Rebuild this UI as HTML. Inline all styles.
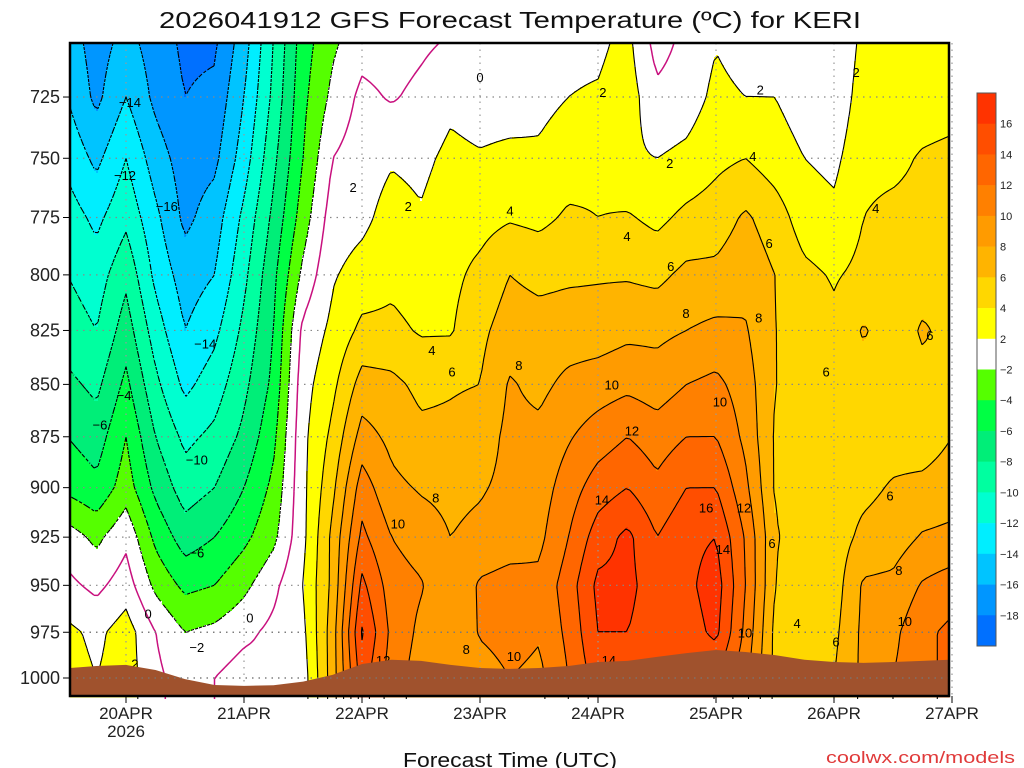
<!DOCTYPE html>
<html><head><meta charset="utf-8"><style>
html,body{margin:0;padding:0;background:#fff;}
svg{display:block;font-family:"Liberation Sans",sans-serif;}
</style></head><body>
<svg id="chart" width="1024" height="768" viewBox="0 0 1024 768" xmlns="http://www.w3.org/2000/svg">
<rect width="1024" height="768" fill="#fff"/>
<text x="510" y="28" text-anchor="middle" font-size="23" textLength="702" lengthAdjust="spacingAndGlyphs" fill="#111">2026041912 GFS Forecast Temperature (ºC) for KERI</text>
<g id="fill"></g>
<g id="grid"></g>
<g id="contours"></g>
<g id="clabels" font-size="13" fill="#000" text-anchor="middle"></g>
<g id="ground"></g>
<rect x="70" y="43" width="879" height="653" fill="none" stroke="#000" stroke-width="2.5"/>
<g id="axes"></g>
<g id="cbar"></g>
<text x="510" y="767" text-anchor="middle" font-size="20" textLength="214" lengthAdjust="spacingAndGlyphs" fill="#111">Forecast Time (UTC)</text>
<text x="1015" y="763" text-anchor="end" font-size="17" textLength="189" lengthAdjust="spacingAndGlyphs" fill="#e03a3a">coolwx.com/models</text>
</svg>
<script>
// ---- data ----
const hours = [0,6,12,18,24,30,36,42,48,54,60,66,72,78,84,90,96,102,108,114,120,126,132,138,144,150,156,162,168,174,180]; // hours since 19APR 12Z
const levels = [700,725,750,775,800,825,850,875,900,925,950,975,1000];
const t00 = [-15,-14,-12.5,-11,-10,-9,-7.5,-6,-4.5,-1,0.5,2.5,3];
const t01 = [-17,-16.5,-14.5,-12.5,-11,-10,-8.5,-7,-5.5,-2.5,-0.5,1.5,2];
const t02 = [-15.5,-14,-12,-10.5,-8.5,-7,-5.5,-4,-3,-0.5,1,3,3];
const t03 = [-17,-16.5,-15,-13.5,-12.5,-11,-9.5,-8,-6.5,-4.5,-2.5,0,0.5];
const t04 = [-18.5,-18,-17,-16.5,-15,-14,-12.5,-10.5,-9,-7,-4.5,-2,-1];
const t05 = [-18.5,-17.5,-16.5,-15,-14,-12.5,-11,-9.5,-8,-6,-4,-1.5,0];
const t06 = [-15,-14,-13,-11.5,-10.5,-9.5,-8.5,-7.5,-6,-4.5,-2.5,-0.5,1];
const t07 = [-10,-9.5,-8.5,-7.5,-6.5,-6,-5.5,-4.5,-3.5,-2.5,-0.5,0.5,0.5];
const t08 = [-5,-4.5,-4,-3,-1.5,0.5,1.2,1.5,1.5,1.5,2,1.5,1];
const t09 = [-2.5,-1.5,0,1,1.8,2.5,3.5,4.5,5.5,6.5,6.5,7,7];
const t10 = [-1,0.5,1,1.5,2.8,4.5,6.8,8.8,11,12.5,14.5,16.2,15];
const t11 = [-1,-0.2,1.8,2.8,3.5,4.5,6.5,7.5,8.5,10,11,11.5,11];
const t12 = [-0.5,0.5,1.5,2.2,3,3.8,5.5,6.5,7.8,9,10.2,9.5,9];
const t13 = [0,1.5,2.5,3.2,3.5,3.8,5.8,6.5,7.5,8,8,8,8];
const t14 = [0,1,2.2,3.3,4.5,5.5,6,7,7.8,8.5,10.3,10.2,9];
const t15 = [0.5,1,2.5,3.8,6,7,8.2,8.5,8.5,9,10.8,10.8,10];
const t16 = [0.5,1.5,2.3,3.5,5.5,6.8,7.5,8.5,9,9.5,10.5,10.2,9.5];
const t17 = [1.5,2,3,4.3,5.7,7,8.5,9.8,11,12,13,12.5,12];
const t18 = [1.5,2.2,3.5,4,5.8,7,9,11,13,15,16.5,16,15];
const t19 = [2.5,3,2.3,4.2,5.8,7.5,9.5,12,14,16.5,16.5,16,15];
const t20 = [-1,0.5,2,3.5,5.5,7.5,9,11,12.5,14,15,15,14];
const t21 = [0.5,1,2.5,4.5,6.5,8,10,12,14,15.5,15.5,15,14];
const t22 = [1.8,2.5,3.5,5,6.5,8.5,10.5,12,14,16,17,16.5,14];
const t23 = [1,2,4,6.3,7.3,8.2,9,9.5,10.5,11.8,12,11.5,10.5];
const t24 = [1,2,3,5,6,6,6,5.8,5.8,6.2,6,5.5,5.5];
const t25 = [0,1,2,3,4.5,5.5,5.5,5.5,5.5,5,4.2,5,5.5];
const t26 = [0,0.5,1.5,2.5,3.8,4.5,5,5,5,5,5,5.5,6];
const t27 = [2.5,3,3.5,4,4.5,6.2,5.2,5,5.5,6.5,8.3,8.5,8.5];
const t28 = [2.5,2.8,3.5,4.5,5,5,5,5.2,6.2,7,8.5,9.5,10];
const t29 = [2.5,3,4.2,4.6,5.2,6.2,5.5,5,6.5,8.2,10.2,11.5,11.5];
const t30 = [1.8,3.2,4.5,5,5.5,5.5,5.5,6,7,8.5,11,12.5,12.5];
const temps = [t00,t01,t02,t03,t04,t05,t06,t07,t08,t09,t10,t11,t12,t13,t14,t15,t16,t17,t18,t19,t20,t21,t22,t23,t24,t25,t26,t27,t28,t29,t30];
const surfacePressure = [994.5,993.4,992.8,995.6,1000.6,1003.9,1004.4,1004,1002,998.3,992.3,990,990.6,992.8,994.5,995,994.5,993.4,991.2,990.6,988.4,986.3,984.6,985.7,987.4,990,991.2,991.7,991.2,990.6,990];
const yTickLabels = [725,750,775,800,825,850,875,900,925,950,975,1000];
const dayHours = [12,36,60,84,108,132,156,180];
const dayLabels = ['20APR','21APR','22APR','23APR','24APR','25APR','26APR','27APR'];
const bounds = [-18,-16,-14,-12,-10,-8,-6,-4,-2,2,4,6,8,10,12,14,16];
const colors = ['#0070ff','#0096ff','#00c4ff','#00eeff','#00ffd0','#00ffa0','#00ee78','#00ff44','#55ff00','#ffffff','#ffff00','#ffd700','#ffb400','#ff9b00','#ff8000','#ff6600','#ff4e00','#ff3300'];
const contourLevels = [-18,-16,-14,-12,-10,-8,-6,-4,-2,0,2,4,6,8,10,12,14,16];
// contour labels: hour, pressure, value
const labelHours = [12.8,11.8,20.3,28.1,6.7,11.6,26.4,26.4,26.4,16.5,37.2,13.8,58.2,69.4,74.2,78.3,91.9,75,67.3,64.3,81.2,90.9,110.2,90.1,113.9,122.8,125.9,110.8,114.9,108.8,130,137.7,133.4,132.8,137.9,140.7,142.8,154.4,143.4,148.5,156.4,169.2,170.4,167.4,175.5,164.5,160.5,141,122.6,109,84,139.5];
const labelPressures = [727,757,770,831,869,855,886,933,983,965,967,992,762,770,834,844,841,905,918,990,984,988,990,772,783,796,817,850,872,906,910,910,931,858,975,819,786,844,928,970,980,942,969,904,827,771,715,722,752,723,717,749];
const labelValues = [-14,-12,-16,-14,-6,-4,-10,-6,-2,0,0,2,2,2,4,6,8,8,10,12,8,10,14,4,4,6,8,10,12,14,16,12,14,10,10,8,6,6,6,4,6,8,10,6,6,4,2,2,2,2,0,4];

// ---- axes ----
const X0=70,X1=949,Y0=43,Y1=696;
const xOf = h => 67 + h*118/24;
const hOf = x => (x-67)*24/118;
const yOf = p => 678 - 1806.6*Math.log(1000/p);
const pOf = y => 1000*Math.exp(-(678-y)/1806.6);
const NS='http://www.w3.org/2000/svg';
function mk(tag,attrs,parent){const e=document.createElementNS(NS,tag);for(const k in attrs)e.setAttribute(k,attrs[k]);parent.appendChild(e);return e;}

function field(x,y){
  let fi=hOf(x)/6; fi=Math.max(0,Math.min(hours.length-1.0001,fi));
  let fj=(pOf(y)-levels[0])/25; fj=Math.max(0,Math.min(levels.length-1.0001,fj));
  const i=Math.floor(fi),j=Math.floor(fj),a=fi-i,b=fj-j;
  const v00=temps[i][j],v10=temps[i+1][j],v01=temps[i][j+1],v11=temps[i+1][j+1];
  return (v00*(1-a)+v10*a)*(1-b)+(v01*(1-a)+v11*a)*b;
}
function bin(v){let k=0;for(const b of bounds)if(v>=b)k++;return k;}

// fill
const gFill=document.getElementById('fill');
const DX=2,DY=2;
for(let y=Y0;y<Y1;y+=DY){
  let start=X0,cur=bin(field(X0+1,y+1));
  for(let x=X0+DX;;x+=DX){
    const end = x>=X1;
    const k = end ? -1 : bin(field(x+1,y+1));
    if(k!==cur){
      const r=mk('rect',{x:start,y:y,width:Math.min(x,X1)-start+0.5,height:DY+0.5,fill:colors[cur]},gFill);
      
      
      start=x;cur=k;
    }
    if(end)break;
  }
}

// grid
const gGrid=document.getElementById('grid');
yTickLabels.forEach(p=>{const l=mk('line',{x1:X0,x2:X1,y1:yOf(p),y2:yOf(p),stroke:'#888','stroke-width':1.2,'stroke-dasharray':'1.5 5'},gGrid);
  
  });
dayHours.forEach(h=>{const l=mk('line',{x1:xOf(h),x2:xOf(h),y1:Y0,y2:Y1,stroke:'#999','stroke-width':1.2,'stroke-dasharray':'1.5 5'},gGrid);
  
  });

// contours (marching squares)
const gC=document.getElementById('contours');
const S=4;
const nx=Math.ceil((X1-X0)/S)+1, ny=Math.ceil((Y1-Y0)/S)+1;
const V=[];
for(let j=0;j<ny;j++){const row=[];for(let i=0;i<nx;i++)row.push(field(X0+i*S,Y0+j*S));V.push(row);}
contourLevels.forEach(L=>{
  let d='';
  for(let j=0;j<ny-1;j++)for(let i=0;i<nx-1;i++){
    const a=V[j][i],b=V[j][i+1],c=V[j+1][i+1],e=V[j+1][i];
    const x=X0+i*S,y=Y0+j*S;
    const pts=[];
    const ed=(v1,v2,x1,y1,x2,y2)=>{if((v1<L)!==(v2<L)){const t=(L-v1)/(v2-v1);pts.push([x1+(x2-x1)*t,y1+(y2-y1)*t]);}};
    ed(a,b,x,y,x+S,y);ed(b,c,x+S,y,x+S,y+S);ed(c,e,x+S,y+S,x,y+S);ed(e,a,x,y+S,x,y);
    for(let k=0;k+1<pts.length;k+=2)d+='M'+pts[k][0].toFixed(1)+' '+pts[k][1].toFixed(1)+'L'+pts[k+1][0].toFixed(1)+' '+pts[k+1][1].toFixed(1);
  }
  if(!d)return;
  const attrs={d:d,fill:'none','stroke-width':L===0?1.5:1.1,stroke:L===0?'#c8107e':'#000'};
  if(L<0)attrs['stroke-dasharray']='3 2';
  const p=mk('path',attrs,gC);
  
  
});

// contour labels
const gL=document.getElementById('clabels');
labelValues.forEach((v,i)=>{
  const t=mk('text',{x:xOf(labelHours[i]),y:yOf(labelPressures[i])+5},gL);
  t.textContent=(v<0?'\u2212'+(-v):v);
  
  
});

// ground
const gG=document.getElementById('ground');
let gd='M'+X0+' '+Y1;
hours.forEach((h,i)=>{gd+=' L'+Math.max(X0,Math.min(X1,xOf(h))).toFixed(1)+' '+yOf(surfacePressure[i]).toFixed(1);});
gd+=' L'+X1+' '+Y1+' Z';
const gp=mk('path',{d:gd,fill:'#a0522d'},gG);


yTickLabels.filter(p=>p>=975).forEach(p=>{const l=mk('line',{x1:X0,x2:X1,y1:yOf(p),y2:yOf(p),stroke:'#777','stroke-width':1.2,'stroke-dasharray':'1.5 5'},gG);
  
  });

// axes labels
const gA=document.getElementById('axes');
yTickLabels.forEach(p=>{
  const y=yOf(p);
  const t=mk('line',{x1:63,x2:70,y1:y,y2:y,stroke:'#000','stroke-width':1},gA);
  
  
  const tx=mk('text',{x:60,y:y+6,'text-anchor':'end','font-size':18,fill:'#222'},gA);
  tx.textContent=p;
  
  
});
dayHours.forEach((h,i)=>{
  const x=xOf(h);
  const t=mk('line',{x1:x,x2:x,y1:Y1,y2:Y1+7,stroke:'#000','stroke-width':1},gA);
  
  
  const tx=mk('text',{x:x,y:719,'text-anchor':'middle','font-size':17,fill:'#222'},gA);
  tx.textContent=dayLabels[i];
  
  
});
const yr=mk('text',{x:xOf(12),y:737,'text-anchor':'middle','font-size':17,fill:'#222'},gA);
yr.textContent='2026';



// colorbar
const gB=document.getElementById('cbar');
const CB0=93,CB1=646,bh=(CB1-CB0)/colors.length;
colors.slice().reverse().forEach((c,k)=>{
  const r=mk('rect',{x:977,y:CB0+k*bh,width:19,height:bh+0.3,fill:c},gB);
  
  
});
mk('rect',{x:977,y:CB0,width:19,height:CB1-CB0,fill:'none',stroke:'#555','stroke-width':1},gB);
bounds.slice().reverse().forEach((b,k)=>{
  const y=CB0+(k+1)*bh;
  const tx=mk('text',{x:1000,y:y+4,'font-size':11,fill:'#222'},gB);
  tx.textContent=(b<0?'\u2212'+(-b):b);
  
  
});
</script>
</body></html>
